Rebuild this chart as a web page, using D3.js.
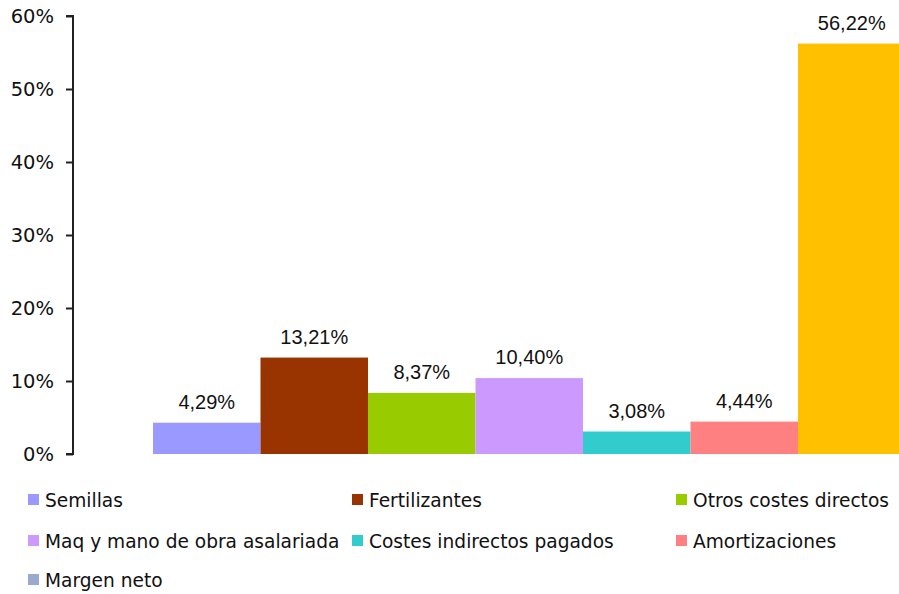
<!DOCTYPE html>
<html>
<head>
<meta charset="utf-8">
<script src="https://cdn.jsdelivr.net/npm/d3@7"></script>
<style>
  body { margin: 0; background: #fff; }
  svg { display: block; }
</style>
</head>
<body>
<div id="Chart"></div>
<script>
// data
var series = ["Semillas", "Fertilizantes", "Otros costes directos",
              "Maq y mano de obra asalariada", "Costes indirectos pagados",
              "Amortizaciones", "Margen neto"];
var values = [4.29, 13.21, 8.37, 10.40, 3.08, 4.44, 56.22];
var labels = ["4,29%", "13,21%", "8,37%", "10,40%", "3,08%", "4,44%", "56,22%"];
var barColors = ["#9999FF", "#993300", "#99CC00", "#CC99FF", "#33CCCC", "#FF8080", "#FFC000"];
var legendColors = ["#9999FF", "#993300", "#99CC00", "#CC99FF", "#33CCCC", "#FF8080", "#9AAACE"];
var yTicks = [0, 10, 20, 30, 40, 50, 60];

var width = 899, height = 594;

var svg = d3.select("#Chart")
            .append("svg")
            .attr("width", width)
            .attr("height", height);

var x = d3.scaleBand()
          .domain(series)
          .range([153, 905.5])
          .padding(0);

var y = d3.scaleLinear()
          .domain([0, 60])
          .range([454, 16]);

// bars
svg.selectAll(".bar")
   .data(values)
   .enter().append("rect")
   .attr("class", "bar")
   .attr("x", (d, i) => x(series[i]))
   .attr("width", x.bandwidth())
   .attr("y", d => y(d))
   .attr("height", d => y(0) - y(d))
   .attr("fill", (d, i) => barColors[i]);

// value labels
svg.selectAll(".lbl")
   .data(values)
   .enter().append("text")
   .attr("class", "lbl")
   .attr("x", (d, i) => x(series[i]) + x.bandwidth() / 2)
   .attr("y", d => y(d) - 14)
   .attr("text-anchor", "middle")
   .style("font-family", "'Liberation Sans', Arial, sans-serif")
   .style("font-size", "20px")
   .attr("fill", "#111")
   .text((d, i) => labels[i]);

// y axis
var yAxis = d3.axisLeft(y)
              .tickValues(yTicks)
              .tickSize(7)
              .tickPadding(12)
              .tickFormat(d => d + "%");

var ga = svg.append("g")
            .attr("transform", "translate(73,0)")
            .call(yAxis);
ga.select(".domain").attr("stroke", "#222").attr("stroke-width", 2).attr("d", "M-7," + y(60) + "H0V" + y(0) + "H-7");
ga.selectAll(".tick line").attr("stroke", "#222").attr("stroke-width", 2);
ga.selectAll(".tick text")
  .style("font-family", "'DejaVu Sans', Verdana, sans-serif")
  .style("font-size", "19.5px")
  .attr("fill", "#111");

// legend
var legX = [28, 352, 676], legY = [500, 541, 580];
var leg = svg.selectAll(".leg")
             .data(series)
             .enter().append("g")
             .attr("class", "leg")
             .attr("transform", (d, i) => "translate(" + legX[i % 3] + "," + legY[Math.floor(i / 3)] + ")");
leg.append("rect")
   .attr("x", 0).attr("y", -6)
   .attr("width", 11).attr("height", 11)
   .attr("fill", (d, i) => legendColors[i]);
leg.append("text")
   .attr("x", 17)
   .attr("y", 6.5)
   .style("font-family", "'DejaVu Sans', Verdana, sans-serif")
   .style("font-size", "18.6px")
   .attr("fill", "#111")
   .text(d => d);
</script>
</body>
</html>
